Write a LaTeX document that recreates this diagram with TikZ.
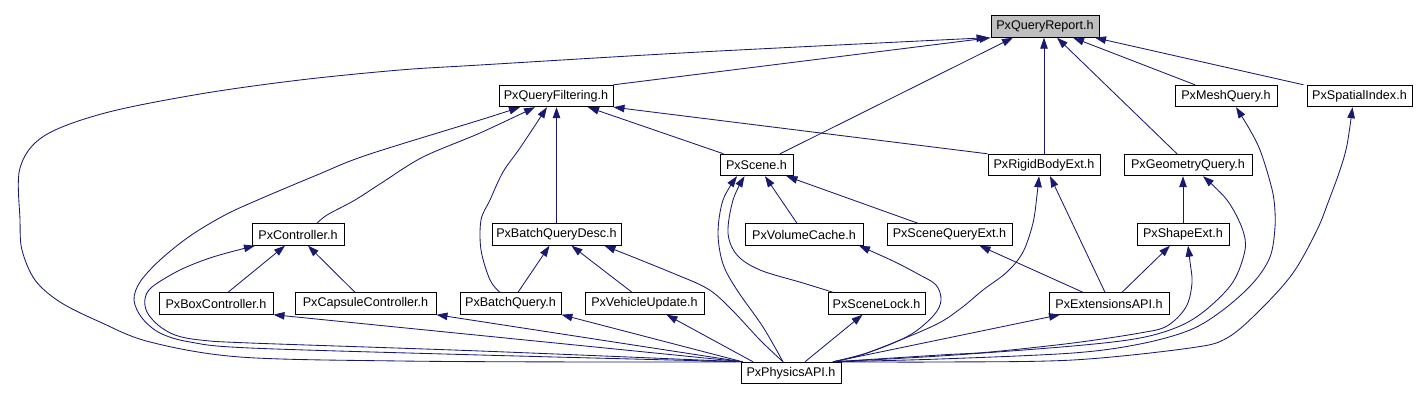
\documentclass[tikz,border=0pt]{standalone}
\usepackage{fontspec}
\setmainfont{Liberation Sans}
\usetikzlibrary{arrows.meta}
\definecolor{edgec}{RGB}{25,25,112}
\definecolor{rootfill}{RGB}{191,191,191}
\begin{document}
\begin{tikzpicture}[x=1pt,y=-1pt,
  box/.style={draw=black, line width=0.9pt, fill=white, minimum height=21.5pt, inner sep=0pt, font=\fontsize{12.6}{14}\selectfont},
  rootbox/.style={box, fill=rootfill},
  edge/.style={draw=edgec, line width=0.85pt, -{Triangle[length=11pt,width=7.5pt]}},
  sm/.style={smooth, tension=0.55}]
\useasboundingbox (0,0) rectangle (1416,401);
% nodes
\node[rootbox, minimum width=108pt] (QR) at (1045,26.5) {PxQueryReport.h};
\node[box, minimum width=114pt] (QF) at (556,96) {PxQueryFiltering.h};
\node[box, minimum width=102pt] (MQ) at (1226,96) {PxMeshQuery.h};
\node[box, minimum width=105pt] (SI) at (1359.5,96) {PxSpatialIndex.h};
\node[box, minimum width=73pt] (SC) at (756.5,165) {PxScene.h};
\node[box, minimum width=112pt] (RBE) at (1044,165) {PxRigidBodyExt.h};
\node[box, minimum width=128pt] (GQ) at (1188,165) {PxGeometryQuery.h};
\node[box, minimum width=92pt] (CT) at (298,234.5) {PxController.h};
\node[box, minimum width=129pt] (BQD) at (556.5,234.5) {PxBatchQueryDesc.h};
\node[box, minimum width=118pt] (VC) at (804,234.5) {PxVolumeCache.h};
\node[box, minimum width=125pt] (SQE) at (949.5,234.5) {PxSceneQueryExt.h};
\node[box, minimum width=92pt] (SE) at (1183,234.5) {PxShapeExt.h};
\node[box, minimum width=114pt] (BC) at (216,303.5) {PxBoxController.h};
\node[box, minimum width=141pt] (CC) at (365.5,303.5) {PxCapsuleController.h};
\node[box, minimum width=101pt] (BQ) at (510.5,303.5) {PxBatchQuery.h};
\node[box, minimum width=119pt] (VU) at (644.5,303.5) {PxVehicleUpdate.h};
\node[box, minimum width=97pt] (SL) at (876.5,303.5) {PxSceneLock.h};
\node[box, minimum width=120pt] (EA) at (1109,303.5) {PxExtensionsAPI.h};
\node[box, minimum width=100pt] (PA) at (791,373) {PxPhysicsAPI.h};
% edges into PxQueryReport
\draw[edge] (QF.north east) -- (QR.south west);
\draw[edge] plot[sm] coordinates {([xshift=2pt]PA.north west) (600,362) (400,361) (240,357) (150,342) (100,322) (60,302) (35,280) (22,250) (20,220) (20,168) (44,136) (105,113) (200,94) (300,80) (400,70) (480,65) (700,52) ([xshift=-3pt]QR.south west)};
\draw[edge] ([xshift=23.5pt]SC.north) -- ([xshift=-32pt]QR.south);
\draw[edge] (RBE.north) -- (RBE.north |- QR.south);
\draw[edge] ([xshift=-11pt]GQ.north) -- ([xshift=12pt]QR.south);
\draw[edge] ([xshift=-31pt]MQ.north) -- ([xshift=28pt]QR.south);
\draw[edge] ([xshift=-56pt]SI.north) -- ([xshift=50pt]QR.south);
% edges into PxQueryFiltering
\draw[edge] plot[sm] coordinates {([xshift=2pt]PA.north west) (480,355) (250,348) (190,342) (160,333) (142,318) (134,300) (140,282) (160,260) (190,236) (225,215) (260,199) (317,175) (367,155) (480,120) ([xshift=-36pt]QF.south)};
\draw[edge] plot[sm] coordinates {([xshift=19pt]CT.north) (327,215) (355,200) (383,182) (423,157) (480,133) ([xshift=-21pt]QF.south)};
\draw[edge] plot[sm] coordinates {([xshift=-10.5pt]BQ.north) (490,280) (481,250) (481,220) (490,200) (503,172) (520,148) ([xshift=-9pt]QF.south)};
\draw[edge] (BQD.north) -- (BQD.north |- QF.south);
\draw[edge] ([xshift=-33pt]SC.north) -- ([xshift=32pt]QF.south);
\draw[edge] (RBE.north west) -- (QF.south east);
% edges into PxController
\draw[edge] plot[sm] coordinates {([xshift=2pt]PA.north west) (480,351) (250,343) (200,340) (175,335) (158,325) (147,312) (145,299) (152,287) (180,270) (213,257) ([xshift=-43pt]CT.south)};
\draw[edge] ([xshift=12pt]BC.north) -- ([xshift=-13pt]CT.south);
\draw[edge] ([xshift=-10.5pt]CC.north) -- ([xshift=10pt]CT.south);
% edges into PxScene
\draw[edge] plot[sm] coordinates {([xshift=-8pt]PA.north) (763,327) (737,290) (723,264) (718,233) (723,200) ([xshift=-19.5pt]SC.south)};
\draw[edge] plot[sm] coordinates {([xshift=-43.5pt]SL.north) (803,283) (760,270) (737,255) (728,233) (733,200) ([xshift=-12pt]SC.south)};
\draw[edge] ([xshift=-7pt]VC.north) -- ([xshift=8.5pt]SC.south);
\draw[edge] ([xshift=-31.5pt]SQE.north) -- ([xshift=30pt]SC.south);
% edges into PxRigidBodyExt
\draw[edge] plot[sm] coordinates {([xshift=42pt]PA.north) (867,353) (933,326) (960,309) (983,290) (1007,272) (1023,252) (1033,223) (1037,195) ([xshift=-5pt]RBE.south)};
\draw[edge] ([xshift=-4pt]EA.north) -- ([xshift=6pt]RBE.south);
% edges into PxGeometryQuery
\draw[edge] (SE.north) -- (SE.north |- GQ.south);
\draw[edge] plot[sm] coordinates {([xshift=42pt]PA.north) (940,356) (1073,346) (1140,338) (1180,326) (1207,309) (1233,282) (1245,250) (1242,228) (1227,200) ([xshift=15pt]GQ.south)};
% edges into PxMeshQuery
\draw[edge] plot[sm] coordinates {([xshift=42pt]PA.north) (940,359) (1073,353) (1140,344) (1190,330) (1223,310) (1253,283) (1270,257) (1275,227) (1274,200) (1269,178) (1260,150) (1250,130) ([xshift=10pt]MQ.south)};
% edges into PxSpatialIndex
\draw[edge] plot[sm] coordinates {([xshift=42pt]PA.north) (940,362) (1073,360) (1190,348) (1227,338) (1260,310) (1293,273) (1317,230) (1329,200) (1340,170) (1347,145) ([xshift=-7pt]SI.south)};
% edges into PxShapeExt
\draw[edge] plot[sm] coordinates {([xshift=42pt]PA.north) (940,355) (990,352) (1073,343) (1140,333) (1167,326) (1186,307) (1192,283) (1190,262) ([xshift=5pt]SE.south)};
\draw[edge] ([xshift=13pt]EA.north) -- ([xshift=-13pt]SE.south);
% edges into PxSceneQueryExt, PxExtensionsAPI
\draw[edge] ([xshift=-26pt]EA.north) -- ([xshift=30pt]SQE.south);
\draw[edge] ([xshift=42pt]PA.north) -- ([xshift=-49pt]EA.south);
% edges into PxVolumeCache, PxSceneLock
\draw[edge] plot[sm] coordinates {([xshift=42pt]PA.north) (870,352) (910,335) (934,315) (941,300) (936,285) (918,274) (893,261) ([xshift=55pt]VC.south)};
\draw[edge] ([xshift=14pt]PA.north) -- ([xshift=-14pt]SL.south);
% edges into PxBatchQueryDesc
\draw[edge] plot[sm] coordinates {([xshift=-8pt]PA.north) (760,340) (732,310) (708,289) (670,272) ([xshift=48pt]BQD.south)};
\draw[edge] ([xshift=7.5pt]BQ.north) -- ([xshift=-7pt]BQD.south);
\draw[edge] ([xshift=-12.5pt]VU.north) -- ([xshift=15pt]BQD.south);
% edges into lowest row
\draw[edge] ([xshift=2pt]PA.north west) -- (BQ.south east);
\draw[edge] ([xshift=-38pt]PA.north) -- ([xshift=22pt]VU.south);
\draw[edge] ([xshift=2pt]PA.north west) -- (BC.south east);
\draw[edge] ([xshift=2pt]PA.north west) -- (CC.south east);
\end{tikzpicture}
\end{document}
